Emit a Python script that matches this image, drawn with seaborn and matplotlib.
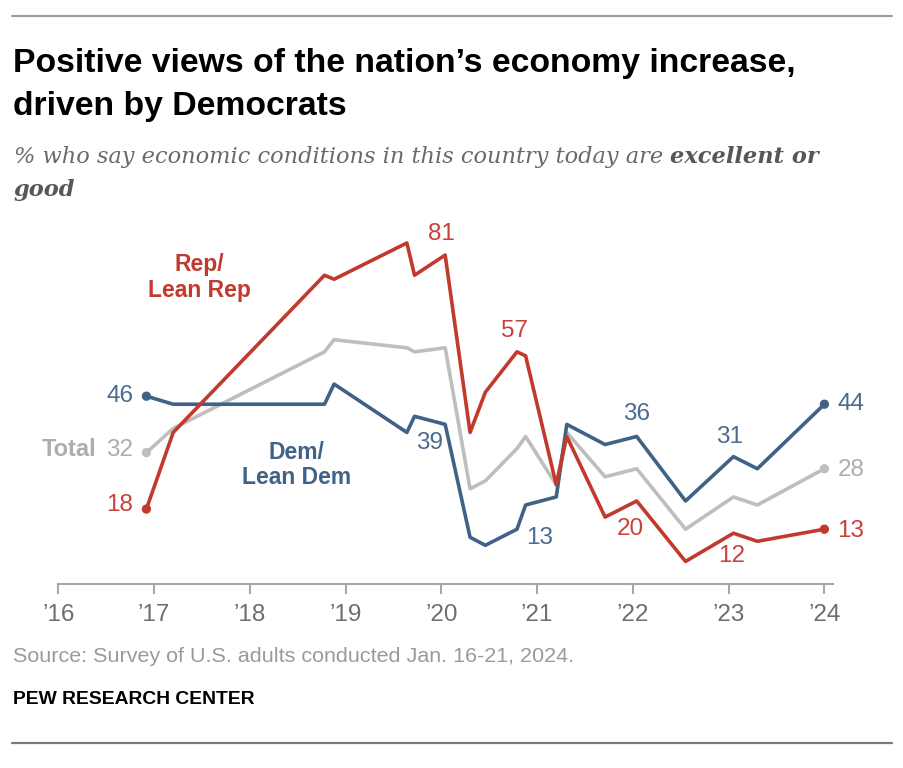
import matplotlib
matplotlib.use("Agg")
import matplotlib.pyplot as plt
from matplotlib.lines import Line2D
import pandas as pd
import seaborn as sns

# survey dates as decimal years
dates = [2016.92, 2017.20, 2018.78, 2018.88, 2019.64, 2019.72, 2020.04,
         2020.30, 2020.46, 2020.79, 2020.88, 2021.20, 2021.31, 2021.71,
         2022.04, 2022.55, 2023.05, 2023.30, 2024.00]
rep = [18, 37, 76, 75, 84, 76, 81, 37, 47, 57, 56, 24, 36, 16, 20, 5, 12, 10, 13]
dem = [46, 44, 44, 49, 37, 41, 39, 11, 9, 13, 19, 21, 39, 34, 36, 20, 31, 28, 44]
total = [32, 38, 57, 60, 58, 57, 58, 23, 25, 33, 36, 24, 37, 26, 28, 13, 21, 19, 28]

year_ticks = [2016, 2017, 2018, 2019, 2020, 2021, 2022, 2023, 2024]
year_labels = ["\u201916", "\u201917", "\u201918", "\u201919", "\u201920",
               "\u201921", "\u201922", "\u201923", "\u201924"]

title_lines = ["Positive views of the nation\u2019s economy increase,",
               "driven by Democrats"]
subtitle_plain = "% who say economic conditions in this country today are "
subtitle_bold = ["excellent or", "good"]
source = "Source: Survey of U.S. adults conducted Jan. 16-21, 2024."
credit = "PEW RESEARCH CENTER"

RED = "#C23A2E"
BLUE = "#3F6286"
GRAY = "#BEBEBE"
RED_T = "#C8413A"
BLUE_T = "#4A6B8F"
GRAY_T = "#ADADAD"

df = pd.DataFrame({
    "date": dates * 3,
    "pct": total + dem + rep,
    "group": ["Total"] * len(dates) + ["Dem"] * len(dates) + ["Rep"] * len(dates),
})
palette = {"Total": GRAY, "Dem": BLUE, "Rep": RED}

sns.set_theme(style="white")
plt.rcParams["font.family"] = ["Liberation Sans", "DejaVu Sans"]

W, H = 904, 768
fig = plt.figure(figsize=(W / 100, H / 100), dpi=100)
ax = fig.add_axes([58.3 / W, 1 - 584.3 / H, (833 - 58.3) / W, (584.3 - 220) / H])

sns.lineplot(data=df, x="date", y="pct", hue="group", hue_order=["Total", "Dem", "Rep"],
             palette=palette, linewidth=2.6, sort=False, legend=False, ax=ax)
ends = df.groupby("group").nth([0, -1])
sns.scatterplot(data=ends, x="date", y="pct", hue="group", palette=palette,
                s=45, linewidth=0, legend=False, ax=ax, zorder=5)

ax.set_xlim(2016, 2024.09)
ax.set_ylim(-0.67, 89.7)
ax.set_xticks(year_ticks)
ax.set_xticklabels(year_labels)
ax.set_yticks([])
ax.set_xlabel("")
ax.set_ylabel("")
for s in ["top", "left", "right"]:
    ax.spines[s].set_visible(False)
ax.spines["bottom"].set_color("#A8A8A8")
ax.spines["bottom"].set_linewidth(1.5)
ax.tick_params(axis="x", bottom=True, direction="out", length=7, width=1.5,
               color="#A8A8A8", labelsize=17.5, labelcolor="#6E6E6E", pad=7)
ax.patch.set_alpha(0)


def lab(txt, x, y, dx, dy, color, ha="center", bold=False, size=17.5):
    ax.annotate(txt, xy=(x, y), xytext=(dx, dy), textcoords="offset points",
                ha=ha, va="center", color=color, fontsize=size,
                fontweight="bold" if bold else "normal")


# point labels
lab("81", dates[6], rep[6], -3, 15, RED_T)
lab("57", dates[9], rep[9], -1.5, 15, RED_T)
lab("18", dates[0], rep[0], -9.5, 3, RED_T, ha="right")
lab("20", dates[14], rep[14], -4.5, -20, RED_T)
lab("12", dates[16], rep[16], -1, -16.5, RED_T)
lab("13", dates[-1], rep[-1], 9.5, -1.3, RED_T, ha="left")
lab("46", dates[0], dem[0], -9.5, 0, BLUE_T, ha="right")
lab("39", dates[6], dem[6], -11, -13.5, BLUE_T)
lab("13", dates[9], dem[9], 16, -6.5, BLUE_T)
lab("36", dates[14], dem[14], 0, 16, BLUE_T)
lab("31", dates[16], dem[16], -3, 14, BLUE_T)
lab("44", dates[-1], dem[-1], 9.5, 0, BLUE_T, ha="left")
lab("32", dates[0], total[0], -9.5, 2, GRAY_T, ha="right")
lab("Total", dates[0], total[0], -36, 2, GRAY_T, ha="right", bold=True, size=17)
lab("28", dates[-1], total[-1], 9.5, -1, GRAY_T, ha="left")

ax.text(2017.47, 75.5, "Rep/\nLean Rep", ha="center", va="center", color=RED,
        fontsize=16.5, fontweight="bold", linespacing=1.15)
ax.text(2018.49, 28.9, "Dem/\nLean Dem", ha="center", va="center", color=BLUE,
        fontsize=16.5, fontweight="bold", linespacing=1.15)

renderer = fig.canvas.get_renderer()


def ftext(x, y, s, **kw):
    return fig.text(x / W, 1 - y / H, s, va="baseline", ha="left", **kw)


def fit(items, width):
    tot = sum(t.get_window_extent(renderer).width for t in items)
    for t in items:
        t.set_fontsize(t.get_fontsize() * width / tot)


# title
t1 = ftext(13, 72, title_lines[0], fontsize=21, fontweight="bold", color="black")
fit([t1], 782)
t2 = ftext(13, 115, title_lines[1], fontsize=t1.get_fontsize(), fontweight="bold",
           color="black")

# subtitle with bold part
serif = ["DejaVu Serif"]
s1 = ftext(14, 163, subtitle_plain, fontsize=15, style="italic", family=serif,
           color="#6A6A6A")
s2 = ftext(14, 163, subtitle_bold[0], fontsize=15, style="italic", fontweight="bold",
           family=serif, color="#575757")
fit([s1, s2], 809)
s2.set_x((14 + s1.get_window_extent(renderer).width) / W)
ftext(14, 196, subtitle_bold[1], fontsize=s2.get_fontsize(), style="italic",
      fontweight="bold", family=serif, color="#575757")

# footer
src = ftext(13, 662, source, fontsize=14, color="#9A9A9A")
fit([src], 562)
pew = ftext(13, 704, credit, fontsize=14, fontweight="bold", color="black")
fit([pew], 242)

fig.add_artist(Line2D([12 / W, 892 / W], [1 - 16 / H] * 2, color="#9E9E9E", lw=1.6))
fig.add_artist(Line2D([12 / W, 892 / W], [1 - 742.5 / H] * 2, color="#7A7A7A", lw=1.6))

fig.savefig("out.png", dpi=100, facecolor="white")
